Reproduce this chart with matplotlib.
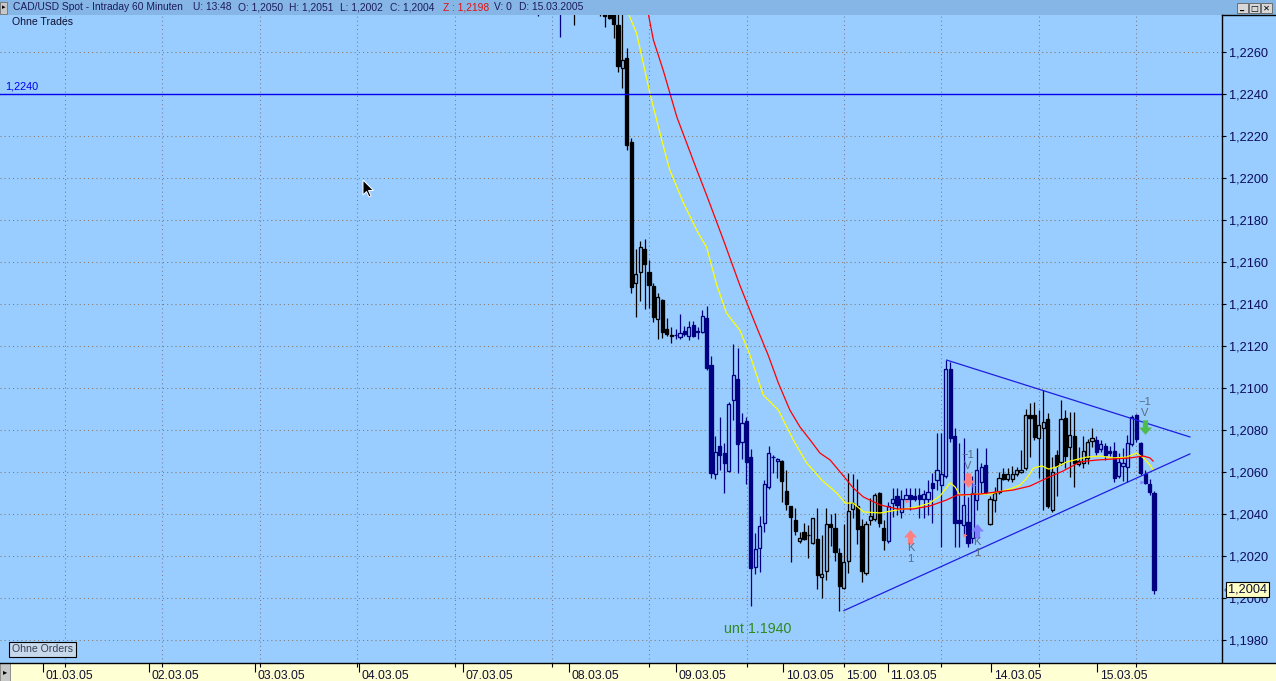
import numpy as np
import matplotlib
matplotlib.use("Agg")
import matplotlib.pyplot as plt
from matplotlib.patches import Rectangle, Polygon
from matplotlib.lines import Line2D
from matplotlib.path import Path
from matplotlib.ticker import FuncFormatter
import matplotlib.transforms as mtransforms

plt.rcParams['font.family'] = ['Liberation Sans', 'DejaVu Sans']

# ---------------- data (hourly bars, index = hours since 01.03.05 00:00) ----------------
bar_idx = [114, 119, 122] + list(range(128, 254))

opens = [
    1.2290, 1.2300, 1.2295, 1.2288, 1.2290, 1.2283, 1.2282, 1.22729, 1.22525, 1.2257,
    1.2217, 1.2150, 1.21552, 1.21662, 1.21552, 1.21486, 1.21329, 1.21419, 1.21281, 1.21252,
    1.21252, 1.21243, 1.21271, 1.21248, 1.2130, 1.21271, 1.21267, 1.21333, 1.2111, 1.2059,
    1.20724, 1.2069, 1.20605, 1.20943, 1.21043, 1.20743, 1.20843, 1.20671, 1.20148, 1.20238,
    1.20357, 1.20529, 1.20671, 1.20652, 1.20652, 1.2051, 1.20438, 1.20371, 1.20271, 1.20314,
    1.2030, 1.20262, 1.20281, 1.2010, 1.20129, 1.20352, 1.20333, 1.20214, 1.20048, 1.20176,
    1.20424, 1.20438, 1.20343, 1.20119, 1.20371, 1.20376, 1.2050, 1.20333, 1.20271, 1.20452,
    1.20486, 1.2041, 1.20471, 1.2049, 1.20486, 1.2049, 1.20471, 1.20471, 1.20548, 1.20562,
    1.20538, 1.20581, 1.2109, 1.20771, 1.20371, 1.20348, 1.20362, 1.20286, 1.20467, 1.20552,
    1.20633, 1.20352, 1.20467, 1.20505, 1.2059, 1.20567, 1.20567, 1.2059, 1.2060, 1.20619,
    1.20871, 1.20871, 1.20762, 1.2081, 1.20852, 1.20419, 1.20681, 1.20648, 1.20857, 1.20719,
    1.20771, 1.20638, 1.20643, 1.20667, 1.20748, 1.20752, 1.2071, 1.20724, 1.2070, 1.2070,
    1.20581, 1.20629, 1.20624, 1.20733, 1.20871, 1.20738, 1.2059, 1.20543, 1.2050]

highs = [
    1.2295, 1.2310, 1.2300, 1.2290, 1.2293, 1.2285, 1.2284, 1.2280, 1.2279, 1.22618,
    1.22189, 1.21662, 1.2170, 1.2171, 1.2161, 1.2150, 1.21452, 1.21424, 1.21333, 1.2129,
    1.21281, 1.21352, 1.21295, 1.21319, 1.21319, 1.2129, 1.21371, 1.2139, 1.21152, 1.20771,
    1.20862, 1.20738, 1.20935, 1.2121, 1.2119, 1.20881, 1.20862, 1.2071, 1.2031, 1.2039,
    1.20562, 1.20724, 1.20681, 1.20665, 1.20655, 1.2061, 1.2044, 1.20429, 1.20314, 1.20357,
    1.20348, 1.20383, 1.20429, 1.2030, 1.20429, 1.2040, 1.20405, 1.20238, 1.20352, 1.20595,
    1.2059, 1.20567, 1.20376, 1.20367, 1.20476, 1.2050, 1.20505, 1.20371, 1.20457, 1.20524,
    1.20524, 1.20514, 1.20524, 1.20524, 1.20524, 1.20524, 1.20514, 1.20562, 1.20595, 1.20786,
    1.20786, 1.21133, 1.21124, 1.2081, 1.20738, 1.20762, 1.20481, 1.20581, 1.20714, 1.20643,
    1.20714, 1.20486, 1.20529, 1.2060, 1.20619, 1.20619, 1.20629, 1.20624, 1.20705, 1.2090,
    1.20929, 1.20933, 1.20895, 1.2099, 1.20881, 1.20671, 1.20705, 1.20943, 1.20895, 1.20886,
    1.20886, 1.20719, 1.20771, 1.20757, 1.2081, 1.20771, 1.20752, 1.20738, 1.20724, 1.20743,
    1.2069, 1.20714, 1.20776, 1.20871, 1.20876, 1.20743, 1.2061, 1.20567, 1.2051]

lows = [
    1.2277, 1.2267, 1.2273, 1.2277, 1.2272, 1.22757, 1.22668, 1.22506, 1.22427, 1.22133,
    1.21451, 1.21338, 1.21414, 1.21376, 1.21381, 1.21314, 1.21233, 1.21238, 1.21248, 1.21214,
    1.21233, 1.21233, 1.21248, 1.21229, 1.21243, 1.21233, 1.21262, 1.21086, 1.20571, 1.20567,
    1.2061, 1.2050, 1.2060, 1.20848, 1.20595, 1.20662, 1.20543, 1.19962, 1.20114, 1.20124,
    1.20314, 1.2052, 1.20595, 1.20571, 1.20457, 1.20419, 1.20171, 1.2030, 1.20262, 1.20276,
    1.2019, 1.20257, 1.20043, 1.2000, 1.20086, 1.20248, 1.20176, 1.19938, 1.20043, 1.20119,
    1.20381, 1.20257, 1.20076, 1.2011, 1.20348, 1.20367, 1.20338, 1.20229, 1.20262, 1.20386,
    1.20395, 1.20381, 1.20462, 1.20419, 1.20462, 1.20381, 1.20381, 1.20395, 1.20357, 1.20514,
    1.20243, 1.20571, 1.20743, 1.20243, 1.20243, 1.2030, 1.20243, 1.20262, 1.20419, 1.2050,
    1.20495, 1.20348, 1.2041, 1.20495, 1.20562, 1.20557, 1.20552, 1.20581, 1.20595, 1.2061,
    1.20671, 1.20752, 1.20571, 1.20419, 1.20429, 1.2041, 1.20486, 1.20633, 1.20619, 1.20576,
    1.20529, 1.20629, 1.20619, 1.20638, 1.20719, 1.20681, 1.20695, 1.20657, 1.20676, 1.20552,
    1.20571, 1.20557, 1.20552, 1.20724, 1.20743, 1.20586, 1.20543, 1.2049, 1.2002]

closes = [
    1.2286, 1.2290, 1.2285, 1.2282, 1.2277, 1.22762, 1.22733, 1.22535, 1.22562, 1.22157,
    1.21479, 1.21543, 1.21671, 1.2159, 1.2149, 1.21338, 1.21433, 1.21267, 1.21257, 1.2125,
    1.21252, 1.21262, 1.21257, 1.2129, 1.21248, 1.21268, 1.21343, 1.21095, 1.20595, 1.20695,
    1.20681, 1.20643, 1.20924, 1.21062, 1.20733, 1.20833, 1.20648, 1.20143, 1.20233, 1.20343,
    1.20543, 1.2069, 1.20671, 1.20662, 1.20557, 1.20448, 1.20386, 1.20319, 1.20286, 1.20281,
    1.20298, 1.20381, 1.2011, 1.20114, 1.20352, 1.20338, 1.20219, 1.20057, 1.20171, 1.20414,
    1.20452, 1.20329, 1.20129, 1.20352, 1.2039, 1.2049, 1.20357, 1.20276, 1.20438, 1.20471,
    1.20443, 1.20471, 1.2049, 1.20471, 1.20471, 1.20471, 1.20495, 1.20505, 1.20524, 1.2061,
    1.2059, 1.2109, 1.20762, 1.20357, 1.20357, 1.20443, 1.20262, 1.2050, 1.2061, 1.20624,
    1.20505, 1.20471, 1.2050, 1.20571, 1.20567, 1.2059, 1.2059, 1.2061, 1.2061, 1.20871,
    1.20857, 1.20767, 1.20824, 1.20838, 1.20438, 1.2060, 1.20629, 1.20852, 1.20676, 1.20776,
    1.20643, 1.20652, 1.2070, 1.20743, 1.20762, 1.20695, 1.20733, 1.20681, 1.2069, 1.20571,
    1.20648, 1.20643, 1.20738, 1.20862, 1.20757, 1.20595, 1.20548, 1.20505, 1.2004]

day_labels = ["01.03.05", "02.03.05", "03.03.05", "04.03.05", "07.03.05", "08.03.05",
              "09.03.05", "10.03.05", "11.03.05", "14.03.05", "15.03.05"]
day_pos = [2.2, 26.1, 50.1, 73.5, 97.0, 120.9, 145.1, 169.3, 192.9, 216.2, 240.1]
time_label = "15:00"
time_pos = 183.0

ma_fast_idx = [134.0, 136.2, 139.2, 141.9, 143.7, 146.8, 150.1, 152.0, 154.3, 156.5,
               159.5, 161.8, 164.8, 168.2, 171.6, 174.6, 178.0, 181.4, 183.3, 185.1,
               187.4, 191.2, 195.0, 199.4, 202.4, 204.7, 207.0, 208.1, 209.2, 213.0,
               216.0, 220.5, 222.8, 224.3, 225.8, 227.7, 229.2, 231.0, 233.3, 237.8,
               240.8, 243.8, 246.8, 249.1, 250.6, 252.1, 252.8]
ma_fast_val = [1.2280, 1.2269, 1.22405, 1.2218, 1.22038, 1.21881, 1.21738, 1.21671, 1.2149, 1.21357,
               1.21276, 1.21157, 1.20967, 1.20895, 1.20752, 1.20643, 1.20562, 1.2050, 1.20452, 1.20452,
               1.2041, 1.20405, 1.20419, 1.20433, 1.20452, 1.20486, 1.20548, 1.20529, 1.2049, 1.20495,
               1.20495, 1.20519, 1.20538, 1.20571, 1.20619, 1.20629, 1.20614, 1.20624, 1.20648, 1.20671,
               1.20676, 1.20667, 1.20671, 1.2069, 1.20667, 1.20633, 1.2061]

ma_slow_idx = [138.5, 140.0, 142.2, 145.3, 147.5, 149.8, 152.0, 155.8, 159.5, 163.3,
               165.9, 168.2, 170.8, 173.1, 175.4, 177.6, 179.9, 183.3, 185.1, 187.4,
               191.2, 195.0, 198.7, 202.4, 206.2, 208.5, 213.7, 217.5, 221.2, 225.0,
               228.8, 232.5, 236.3, 240.1, 243.8, 247.6, 250.6, 252.1, 252.8]
ma_slow_val = [1.2282, 1.22657, 1.22514, 1.2229, 1.22167, 1.22038, 1.21919, 1.21705, 1.2149, 1.2129,
               1.21157, 1.21024, 1.20895, 1.20814, 1.20752, 1.2069, 1.20657, 1.20571, 1.20524, 1.20481,
               1.20443, 1.20424, 1.20424, 1.20438, 1.20467, 1.2049, 1.20495, 1.20505, 1.20514, 1.20533,
               1.20571, 1.20605, 1.20648, 1.20657, 1.20662, 1.20667, 1.20676, 1.20667, 1.20652]

upper_idx = [206.2, 261.1]
upper_val = [1.21133, 1.20767]
lower_idx = [183.0, 261.1]
lower_val = [1.1994, 1.20686]
hline_level = 1.2240
support_text = "unt 1.1940"
support_idx, support_val = 163.6, 1.19852

signal_idx = [198, 211, 213, 251]
signal_price = [1.2029, 1.20562, 1.20319, 1.20814]
signal_dir = ["up", "down", "up", "down"]
signal_color = ["#FF7F7F", "#FF7F7F", "#7F7FFF", "#4DBB4D"]
signal_text = [("K", "1"), ("\u22121", "V"), ("K", "1"), ("\u22121", "V")]

fill_idx = [197.2, 210.3, 212.4, 250.2]
fill_price = [1.20462, 1.2030, 1.20538, 1.20554]
fill_color = ["#FF7F7F", "#FF7F7F", "#7F7FFF", "#7F7FFF"]

yticks = [1.1980, 1.2000, 1.2020, 1.2040, 1.2060, 1.2080, 1.2100, 1.2120, 1.2140,
          1.2160, 1.2180, 1.2200, 1.2220, 1.2240, 1.2260]
last_price = 1.2004

header_parts = [("CAD/USD Spot - Intraday 60 Minuten", 12.5, "#1c1c5c"),
                ("U: 13:48", 192.7, "#1c1c5c"), ("O: 1,2050", 238, "#1c1c5c"),
                ("H: 1,2051", 289, "#1c1c5c"), ("L: 1,2002", 340, "#1c1c5c"),
                ("C: 1,2004", 389.8, "#1c1c5c"), ("Z : 1,2198", 442.9, "#e01010"),
                ("V: 0", 493.9, "#1c1c5c"), ("D: 15.03.2005", 519.2, "#1c1c5c")]

# ---------------- layout ----------------
W, H = 1276, 681
BG = "#99CCFF"
NAVY = "#000080"
PLOT_TOP, PLOT_BOT, PLOT_RIGHT = 15, 663, 1222
PX0, PXB = 33.2, 4.43            # pixel of bar 0, pixels per bar
PRICE_AT_94, PX_PER_UNIT = 1.2240, 21000.0


def fx(px):
    return px / W


def fy(py):
    return 1 - py / H


fig = plt.figure(figsize=(W / 100, H / 100), dpi=100)
fig.patch.set_facecolor(BG)

ax = fig.add_axes([0, fy(PLOT_BOT), PLOT_RIGHT / W, (PLOT_BOT - PLOT_TOP) / H])
ax.set_facecolor(BG)
ax.set_xlim(-PX0 / PXB, (PLOT_RIGHT - PX0) / PXB)
ax.set_ylim(PRICE_AT_94 - (PLOT_BOT - 94) / PX_PER_UNIT, PRICE_AT_94 + (94 - PLOT_TOP) / PX_PER_UNIT)
xlo, xhi = ax.get_xlim()
ylo, yhi = ax.get_ylim()

# grid
grid_pos = np.arange(7.2, xhi, 21.98)
ax.hlines(yticks, xlo, xhi, colors="#8a7a6a", linestyles=(0, (1, 3)), lw=0.75, zorder=0.5)
ax.vlines(grid_pos, ylo, yhi, colors="#7a7a8a", linestyles=(0, (1, 3)), lw=0.75, zorder=0.5)

# candles
bw = 0.72
for i, o, h, l, c in zip(bar_idx, opens, highs, lows, closes):
    k = sum(1 for p in day_pos if p <= i + 0.5) - 1
    col = NAVY if k % 2 == 0 else "black"
    ax.vlines(i, l, h, colors=col, lw=0.9, zorder=2)
    face = col if c < o else BG
    ax.add_patch(Rectangle((i - bw / 2, min(o, c)), bw, abs(c - o),
                           facecolor=face, edgecolor=col, lw=0.95, zorder=3))

# moving averages, lines
ax.plot(ma_fast_idx, ma_fast_val, color="#FFFF00", lw=0.9, zorder=4)
ax.plot(ma_slow_idx, ma_slow_val, color="#FF0000", lw=0.9, zorder=4)
ax.plot(upper_idx, upper_val, color="#1E1EE0", lw=0.9, zorder=4)
ax.plot(lower_idx, lower_val, color="#1E1EE0", lw=0.9, zorder=4)
ax.axhline(hline_level, color="#0000F0", lw=1.0, zorder=4)
blend = mtransforms.blended_transform_factory(ax.transAxes, ax.transData)
ax.annotate("1,2240", xy=(0, hline_level), xycoords=blend, xytext=(3.6, 1.5),
            textcoords="offset points", ha="left", va="bottom", fontsize=7.8, color="#0000F0")

ax.text(support_idx, support_val, support_text, ha="center", va="center",
        fontsize=10.3, color="#2f8a1e", zorder=5)

# trade signals
up_arrow = Path([(0, 1), (0.85, 0.05), (0.35, 0.05), (0.35, -1), (-0.35, -1), (-0.35, 0.05),
                 (-0.85, 0.05), (0, 1)],
                [Path.MOVETO] + [Path.LINETO] * 6 + [Path.CLOSEPOLY])
down_arrow = Path([(x, -y) for x, y in up_arrow.vertices], up_arrow.codes)
for i, p, d, col, (t1, t2) in zip(signal_idx, signal_price, signal_dir, signal_color, signal_text):
    ax.plot([i], [p], marker=up_arrow if d == "up" else down_arrow, ms=10,
            color=col, mec=col, mew=0.3, zorder=6)
    if d == "up":
        offs = [(0, -7.6), (0, -15.6)]
    else:
        offs = [(0, 18.0), (0, 10.0)]
    for t, off in zip((t1, t2), offs):
        ax.annotate(t, xy=(i, p), xytext=off, textcoords="offset points", ha="center",
                    va="center", fontsize=8, color="#5a6c82", zorder=6)
for i, p, col in zip(fill_idx, fill_price, fill_color):
    ax.plot([i], [p], marker=">", ms=3, color=col, mew=0, zorder=6)

# right axis
ax.set_xticks([])
ax.set_yticks(yticks)
ax.yaxis.set_major_formatter(FuncFormatter(lambda v, _: f"{v:.4f}".replace(".", ",")))
ax.yaxis.tick_right()
ax.tick_params(axis="y", direction="out", length=3, width=0.8, color="black",
               labelcolor="#0c0c5a", labelsize=9.2, pad=2)
for s in ("top", "left", "bottom"):
    ax.spines[s].set_visible(False)
ax.spines["right"].set_color("black")
ax.spines["right"].set_linewidth(1.0)

ax.text(1.0 + 6 / PLOT_RIGHT, last_price, "1,2004", transform=blend, ha="left", va="center",
        fontsize=9.2, color="#101030", clip_on=False, zorder=10,
        bbox=dict(boxstyle="square,pad=0.12", fc="#FFFFC4", ec="black", lw=0.8))
ax.text(1.0 + 1.5 / PLOT_RIGHT, last_price, "‹", transform=blend, ha="left", va="center",
        fontsize=7, color="#303050", clip_on=False, zorder=10)

# texts in the plot
fig.text(fx(12), fy(22), "Ohne Trades", ha="left", va="center", fontsize=7.6, color="#101030")
fig.text(fx(12), fy(649.5), "Ohne Orders", ha="left", va="center", fontsize=7.6, color="#3a4058",
         bbox=dict(boxstyle="square,pad=0.28", fc="#C6D8EA", ec="black", lw=0.8))

# header bar
fig.add_artist(Rectangle((0, fy(PLOT_TOP)), 1, PLOT_TOP / H, transform=fig.transFigure,
                         facecolor="#86B6E6", edgecolor="none", zorder=0))
fig.add_artist(Rectangle((fx(0), fy(13.5)), 7 / W, 11 / H, transform=fig.transFigure,
                         facecolor="#C8C8C8", edgecolor="#707070", lw=0.6))
fig.text(fx(3.5), fy(7.5), "▸", ha="center", va="center", fontsize=5, color="black",
         family=["DejaVu Sans"])
for txt, px, col in header_parts:
    fig.text(fx(px), fy(7.5), txt, ha="left", va="center", fontsize=7.4, color=col)
for bx, glyph in zip((1237, 1249, 1261), ("_", "□", "✕")):
    fig.add_artist(Rectangle((fx(bx), fy(13)), 11 / W, 10 / H, transform=fig.transFigure,
                             facecolor="#D8D8D8", edgecolor="#606060", lw=0.6))
    fig.text(fx(bx + 5.5), fy(8), glyph, ha="center", va="center", fontsize=6,
             color="black", family=["DejaVu Sans"], weight="bold")
fig.add_artist(Line2D([fx(PLOT_RIGHT), 1], [fy(PLOT_TOP), fy(PLOT_TOP)],
                      transform=fig.transFigure, color="black", lw=1.0))

# mouse pointer
cur = np.array([(0, 0), (0, 15), (3.5, 11.5), (6, 17), (8, 16), (5.5, 10.5), (10.5, 10.5)])
cur = cur + np.array([363, 180])
fig.add_artist(Polygon([(fx(a), fy(b)) for a, b in cur], closed=True, transform=fig.transFigure,
                       facecolor="black", edgecolor="white", lw=0.7, zorder=20))

# bottom date band
band = fig.add_axes([0, 0, 1, (H - PLOT_BOT) / H])
band.set_facecolor("#FFFFD4")
band.set_xlim(-PX0 / PXB, (W - PX0) / PXB)
band.set_ylim(0, 1)
band.set_xticks([])
band.set_yticks([])
for s in ("left", "right", "bottom"):
    band.spines[s].set_visible(False)
band.spines["top"].set_color("black")
band.spines["top"].set_linewidth(1.0)
bh = H - PLOT_BOT
band.vlines(day_pos, 1 - 9 / bh, 1, colors="black", lw=0.8)
band.vlines(grid_pos, 1 - 4 / bh, 1, colors="black", lw=0.8)
for p, lab in zip(day_pos, day_labels):
    band.annotate(lab, xy=(p, 0.3), xytext=(2.0, 0), textcoords="offset points",
                  ha="left", va="center", fontsize=8.7, color="#101030")
band.annotate(time_label, xy=(time_pos, 0.3), xytext=(1.5, 0), textcoords="offset points",
              ha="left", va="center", fontsize=8.7, color="#101030")
band.add_patch(Rectangle((0, 0), 10 / W, 1, transform=band.transAxes,
                         facecolor="#C8C8C8", edgecolor="#808080", lw=0.6))
band.text(5 / W, 0.5, "▸", transform=band.transAxes, ha="center", va="center",
          fontsize=6, color="black", family=["DejaVu Sans"])

fig.savefig("out.png", dpi=100, facecolor=fig.get_facecolor())
